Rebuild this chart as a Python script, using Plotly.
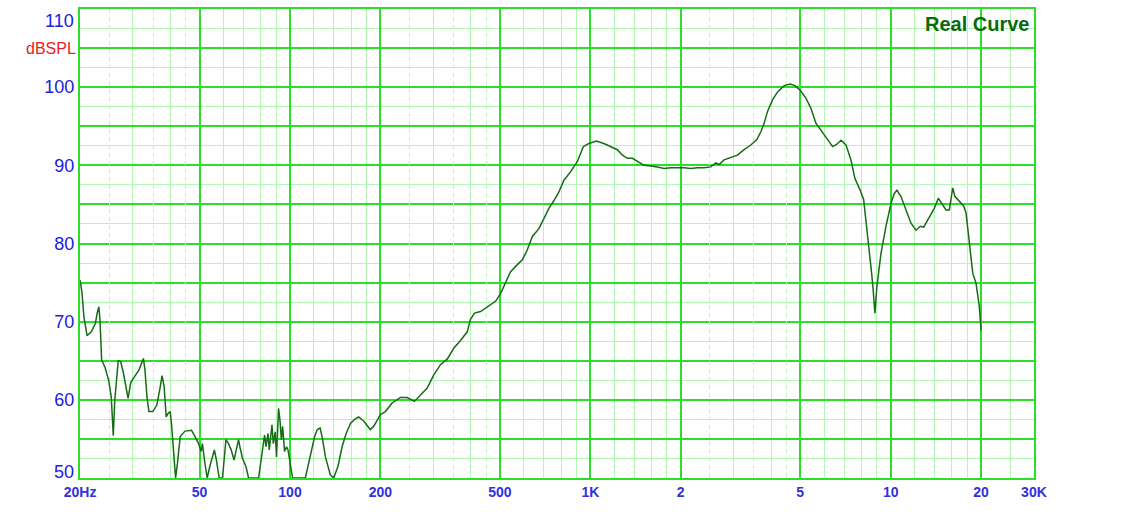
import math
import plotly.graph_objects as go

# ---- data (frequency in Hz, level in dB SPL) ----
freq_hz = [
    20.0, 20.3, 20.6, 21.1, 21.8, 22.5, 22.8, 23.1, 23.3, 23.6, 24.2, 24.9, 25.4, 25.7, 25.8,
    26.1, 26.4, 26.8, 27.3, 27.9, 28.9, 29.5, 30.4, 31.4, 32.5, 32.9, 33.4, 33.9, 34.9, 36.0,
    37.0, 37.5, 38.1, 38.7, 39.3, 39.9, 40.3, 40.8, 41.2, 41.6, 42.2, 43.1, 44.7, 47.0, 48.3,
    49.6, 50.6, 51.1, 51.9, 53.0, 54.1, 55.2, 56.0, 56.9, 58.1, 59.6, 60.3, 61.2, 62.4, 63.7,
    65.1, 66.4, 67.4, 68.1, 69.5, 71.3, 72.8, 78.6, 80.3, 81.5, 82.3, 83.2, 84.5, 85.3, 87.1,
    88.0, 89.3, 90.2, 91.6, 92.6, 93.6, 94.5, 95.9, 97.4, 98.5, 100.5, 102.0, 112.5, 116.9, 120.8,
    123.3, 125.9, 127.9, 131.2, 136.3, 139.8, 144.5, 149.1, 153.8, 159.2, 164.2, 169.3, 175.9, 185.1, 189.9,
    200, 207.8, 218.8, 233.2, 245.6, 259.7, 272, 286.3, 301.2, 317, 333.7, 351, 369.6, 389.1, 399,
    411.5, 430.9, 453.6, 483.5, 502.4, 522, 542.6, 571.4, 593.7, 616.9, 641.1, 674.4, 700.7, 728, 756.6,
    786.1, 816.9, 860.1, 905.6, 948.3, 989.8, 1047, 1110, 1169, 1230, 1279, 1329, 1381, 1435, 1509,
    1589, 1672, 1759, 1851, 1950, 2051, 2160, 2273, 2391, 2518, 2616, 2683, 2788, 2935, 3089,
    3251, 3423, 3584, 3697, 3792, 3892, 4045, 4203, 4421, 4629, 4799, 4998, 5222, 5426, 5637,
    5858, 6087, 6410, 6624, 6832, 7099, 7375, 7605, 7921, 8130, 8275, 8483, 8641, 8727, 8862,
    8999, 9283, 9645, 10024, 10280, 10496, 10823, 11247, 11687, 12144, 12553, 12882, 13448, 13972, 14411,
    14790, 15287, 15678, 16094, 16379, 16928, 17508, 17825, 18281, 18762, 19245, 19738, 20000,
]
spl_db = [
    75.3, 73.7, 70.6, 68.2, 68.7, 69.8, 71.1, 71.9, 70.2, 65.1, 64.2, 62.5, 60.4, 56.6, 55.4,
    60.0, 62.5, 65.0, 64.9, 63.4, 60.2, 62.2, 63.0, 63.8, 65.3, 63.8, 60.4, 58.5, 58.5, 59.3,
    61.7, 63.1, 61.7, 57.8, 58.3, 58.5, 57.0, 54.4, 51.4, 50.0, 51.9, 55.3, 56.0, 56.1, 55.3,
    54.4, 53.4, 54.4, 52.3, 50.0, 51.5, 52.9, 53.6, 52.3, 50.0, 50.0, 52.3, 54.9, 54.4, 53.6,
    52.3, 54.0, 54.9, 54.0, 52.5, 51.5, 50.0, 50.0, 52.7, 54.9, 55.5, 54.0, 55.7, 53.6, 56.8,
    54.4, 55.9, 52.7, 58.9, 57.4, 54.9, 56.6, 53.4, 54.0, 53.6, 51.5, 50.0, 50.0, 52.7, 55.3,
    56.2, 56.4, 55.3, 52.7, 50.4, 50.0, 51.5, 54.0, 55.7, 57.0, 57.5, 57.8, 57.3, 56.2, 56.6,
    58.1, 58.5, 59.6, 60.3, 60.3, 59.8, 60.6, 61.5, 63.2, 64.5, 65.2, 66.6, 67.6, 68.7, 70.3,
    71.1, 71.3, 71.9, 72.6, 73.6, 75.1, 76.4, 77.3, 77.9, 79.2, 80.9, 81.9, 83.1, 84.5, 85.5,
    86.6, 88.1, 89.2, 90.5, 92.4, 92.8, 93.1, 92.8, 92.4, 92.0, 91.3, 90.9, 90.9, 90.5, 90.0,
    89.9, 89.8, 89.6, 89.7, 89.7, 89.7, 89.6, 89.7, 89.7, 89.8, 90.3, 90.1, 90.7, 91.0, 91.3,
    92.0, 92.6, 93.3, 94.3, 95.4, 96.9, 98.4, 99.4, 100.2, 100.4, 100.2, 99.6, 98.6, 97.3, 95.4,
    94.5, 93.5, 92.4, 92.7, 93.2, 92.6, 90.7, 88.3, 86.8, 85.6, 83.0, 79.6, 76.2, 74.5, 71.1,
    74.5, 78.7, 82.2, 85.1, 86.4, 86.8, 86.0, 84.3, 82.6, 81.7, 82.2, 82.1, 83.4, 84.5, 85.8,
    85.2, 84.3, 84.3, 87.1, 86.0, 85.4, 84.8, 83.9, 80.0, 76.2, 74.9, 71.9, 68.9,
]

# axis ticks / grids
x_major_vals = [20, 50, 100, 200, 500, 1000, 2000, 5000, 10000, 20000, 30000]
x_major_text = ["<b>20Hz</b>", "<b>50</b>", "<b>100</b>", "<b>200</b>", "<b>500</b>", "<b>1K</b>",
                "<b>2</b>", "<b>5</b>", "<b>10</b>", "<b>20</b>", "<b>30K</b>"]
x_minor_vals = [30, 40, 60, 70, 80, 90, 120, 140, 160, 180, 300, 400,
                600, 700, 800, 900, 1200, 1400, 1600, 1800, 3000, 4000,
                6000, 7000, 8000, 9000, 12000, 14000, 16000, 18000, 25000]
x_dash_vals = [25, 35, 45, 250, 350, 450, 2500, 3500, 4500]
y_major_vals = [50, 55, 60, 65, 70, 75, 80, 85, 90, 95, 100, 105, 110]
# inner labels sit on their lines; the two edge labels are nudged inside (annotations)
y_major_text = ["", "", "60", "", "70", "", "80", "", "90", "", "100", "", ""]
y_edge_labels = [(110, "110", "top", 0), (50, "50", "bottom", -6)]
y_minor_vals = [52.5, 57.5, 62.5, 67.5, 72.5, 77.5, 82.5, 87.5, 92.5, 97.5, 102.5, 107.5]

MAJOR = "#2ade2a"
MINOR = "#b4f6b4"
BLUE = "#2020e0"
FONT = "Arial, Liberation Sans, sans-serif"
xr = [math.log10(19.99), math.log10(30010)]

fig = go.Figure()
fig.add_trace(go.Scatter(
    x=freq_hz, y=spl_db, mode="lines",
    line=dict(color="#156c15", width=1.5),
    hoverinfo="x+y", showlegend=False,
))
# carrier for the dashed grid axis
fig.add_trace(go.Scatter(
    x=x_dash_vals, y=[None] * len(x_dash_vals), xaxis="x2", yaxis="y",
    mode="lines", showlegend=False, hoverinfo="skip",
))

annotations = [
    dict(text="dBSPL", xref="paper", x=0, xanchor="right", xshift=-2,
         yref="y", y=105, yanchor="middle", showarrow=False,
         font=dict(size=16, color="#e82020", family=FONT)),
    dict(text="<b>Real Curve</b>", xref="paper", x=1, xanchor="right", xshift=-2,
         yref="paper", y=1, yanchor="top", yshift=-2, showarrow=False,
         font=dict(size=20, color="#0a6a0a", family=FONT)),
]
for val, txt, anchor, shift in y_edge_labels:
    annotations.append(dict(
        text=txt, xref="paper", x=0, xanchor="right", xshift=-4,
        yref="y", y=val, yanchor=anchor, yshift=shift,
        showarrow=False, font=dict(size=18, color=BLUE, family=FONT),
    ))

fig.update_layout(
    width=1122, height=526,
    margin=dict(l=80, r=88, t=9, b=48, autoexpand=False),
    paper_bgcolor="white", plot_bgcolor="white",
    font=dict(family=FONT),
    xaxis=dict(
        type="log", range=xr, automargin=False,
        tickmode="array", tickvals=x_major_vals, ticktext=x_major_text,
        tickfont=dict(size=14, color="#3030e0", family=FONT),
        ticks="", showgrid=True, gridcolor=MAJOR, gridwidth=2,
        minor=dict(tickmode="array", tickvals=x_minor_vals, showgrid=True,
                   gridcolor=MINOR, gridwidth=1, ticks=""),
        showline=True, mirror=True, linecolor=MAJOR, linewidth=2,
        zeroline=False, layer="below traces",
    ),
    xaxis2=dict(
        type="log", range=xr, overlaying="x", anchor="y", automargin=False,
        tickmode="array", tickvals=x_dash_vals, showticklabels=False,
        ticks="", showgrid=True, gridcolor=MINOR, gridwidth=1, griddash="4px,4px",
        showline=False, zeroline=False,
    ),
    yaxis=dict(
        range=[50, 110], automargin=False,
        tickmode="array", tickvals=y_major_vals, ticktext=y_major_text,
        tickfont=dict(size=18, color=BLUE, family=FONT),
        ticks="", showgrid=True, gridcolor=MAJOR, gridwidth=2,
        minor=dict(tickmode="array", tickvals=y_minor_vals, showgrid=True,
                   gridcolor=MINOR, gridwidth=1, ticks=""),
        showline=True, mirror=True, linecolor=MAJOR, linewidth=2,
        zeroline=False,
    ),
    annotations=annotations,
)

fig.write_html("out.html", config={"displayModeBar": False},
               post_script="document.body.style.margin='0';")
